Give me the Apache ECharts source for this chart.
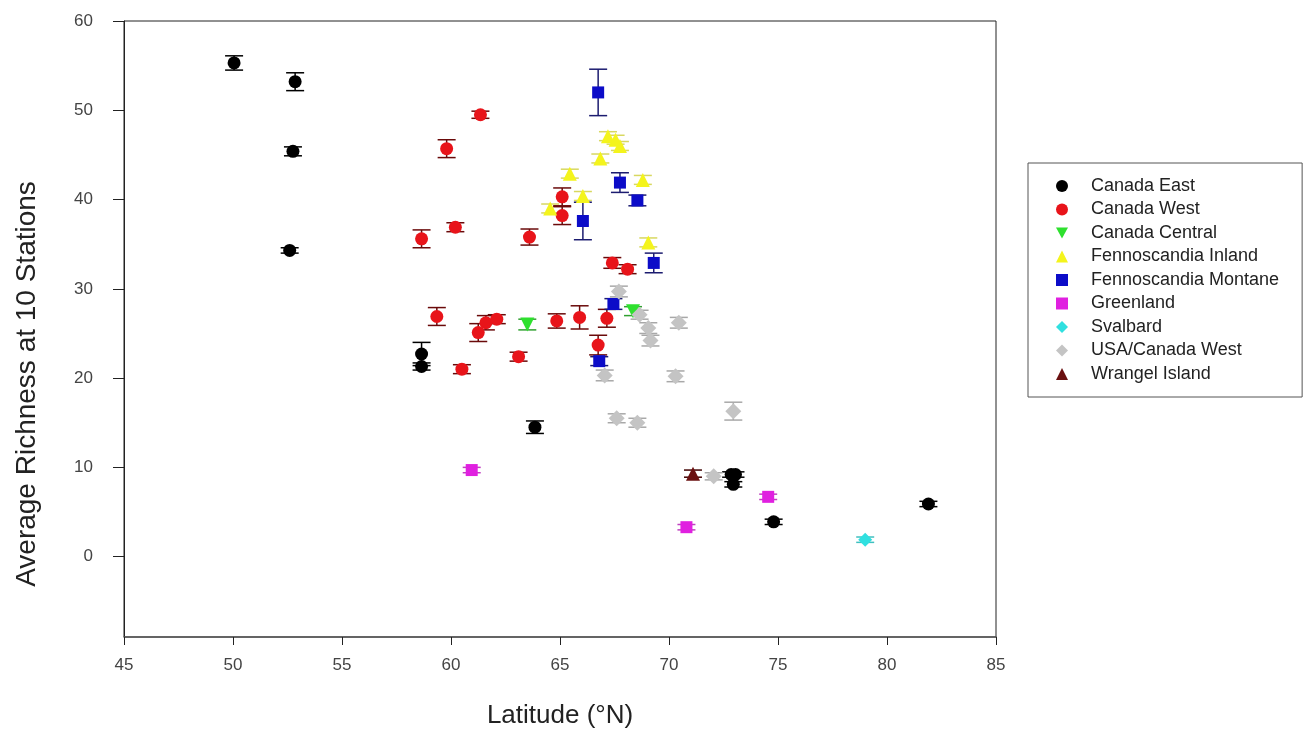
<!DOCTYPE html>
<html>
<head>
<meta charset="utf-8">
<script src="https://cdn.jsdelivr.net/npm/echarts@6/dist/echarts.min.js"></script>
<style>html,body{margin:0;padding:0;background:#fff}#c{width:1306px;height:734px}</style>
</head>
<body>
<div id="c"></div>
<script>
// [latitude, richness, error]
var canadaEast = [[50.05,55.3,0.8],[52.85,53.2,1.0],[52.75,45.4,0.5],[52.6,34.3,0.3],[58.65,22.7,1.3],[58.65,21.3,0.4],[63.85,14.5,0.7],[72.85,9.2,0.3],[73.05,9.2,0.3],[72.95,8.1,0.3],[74.8,3.9,0.3],[81.9,5.9,0.3]];
var canadaWest = [[61.35,49.5,0.4],[59.8,45.7,1.0],[60.2,36.9,0.5],[58.65,35.6,1.0],[63.6,35.8,0.9],[65.1,40.3,1.0],[65.1,38.2,1.0],[67.4,32.9,0.6],[68.1,32.2,0.5],[59.35,26.9,1.0],[61.25,25.1,1.0],[61.6,26.2,0.8],[62.1,26.6,0.5],[60.5,21.0,0.5],[63.1,22.4,0.5],[64.85,26.4,0.8],[65.9,26.8,1.3],[67.15,26.7,1.0],[66.75,23.7,1.1]];
var canadaCentral = [[63.5,26.0,0.6],[68.35,27.5,0.5]];
var fennoInland = [[64.55,39.0,0.5],[66.05,40.4,0.5],[65.45,42.9,0.5],[66.85,44.6,0.5],[67.2,47.1,0.5],[67.55,46.7,0.5],[67.75,46.0,0.5],[68.8,42.2,0.5],[69.05,35.2,0.5]];
var fennoMontane = [[66.75,52.0,2.6],[67.75,41.9,1.1],[68.55,39.9,0.6],[66.05,37.6,2.1],[69.3,32.9,1.1],[67.45,28.3,0.6],[66.8,21.9,0.5]];
var greenland = [[60.95,9.7,0.3],[70.8,3.3,0.3],[74.55,6.7,0.3]];
var svalbard = [[79.0,1.9,0.3]];
var usaCanadaWest = [[67.7,29.7,0.6],[68.65,27.1,0.5],[69.05,25.6,0.6],[69.15,24.2,0.6],[70.45,26.2,0.6],[70.3,20.2,0.6],[67.05,20.3,0.6],[67.6,15.5,0.5],[68.55,15.0,0.5],[72.95,16.3,1.0],[72.05,9.0,0.4]];
var wrangel = [[71.1,9.3,0.4]];

var yTicks = [0,10,20,30,40,50,60];
var xTitle = 'Latitude (°N)';
var yTitle = 'Average Richness at 10 Stations';

var groups = [
  {name:'Canada East', data:canadaEast, color:'#000000', bar:'#000000', symbol:'circle', size:13},
  {name:'Canada West', data:canadaWest, color:'#e8141a', bar:'#6a0a0a', symbol:'circle', size:13},
  {name:'Canada Central', data:canadaCentral, color:'#2ee02e', bar:'#30a030', symbol:'path://M0,0 L10,0 L5,9 Z', size:14},
  {name:'Fennoscandia Inland', data:fennoInland, color:'#f4f41c', bar:'#d8d860', symbol:'triangle', size:14},
  {name:'Fennoscandia Montane', data:fennoMontane, color:'#0c0cc8', bar:'#1c1c70', symbol:'rect', size:12},
  {name:'Greenland', data:greenland, color:'#e020e0', bar:'#c040c0', symbol:'rect', size:12},
  {name:'Svalbard', data:svalbard, color:'#30e0e0', bar:'#40c0c0', symbol:'diamond', size:14},
  {name:'USA/Canada West', data:usaCanadaWest, color:'#c4c4c4', bar:'#a8a8a8', symbol:'diamond', size:16},
  {name:'Wrangel Island', data:wrangel, color:'#6a1010', bar:'#400000', symbol:'triangle', size:14}
];

var series = [];
groups.forEach(function(g){
  series.push({
    name: g.name + ' err',
    type: 'custom',
    z: 1,
    silent: true,
    data: g.data.map(function(d){ return [d[0], d[1]-d[2], d[1]+d[2]]; }),
    encode: {x:0, y:[1,2]},
    renderItem: function(params, api){
      var lo = api.coord([api.value(0), api.value(1)]);
      var hi = api.coord([api.value(0), api.value(2)]);
      var hw = 9;
      var st = {stroke: g.bar, lineWidth: 1.5};
      return {type:'group', children:[
        {type:'line', shape:{x1:lo[0], y1:lo[1], x2:hi[0], y2:hi[1]}, style:st},
        {type:'line', shape:{x1:lo[0]-hw, y1:lo[1], x2:lo[0]+hw, y2:lo[1]}, style:st},
        {type:'line', shape:{x1:hi[0]-hw, y1:hi[1], x2:hi[0]+hw, y2:hi[1]}, style:st}
      ]};
    }
  });
});
groups.forEach(function(g){
  series.push({
    name: g.name,
    type: 'scatter',
    z: 2,
    symbol: g.symbol,
    symbolSize: g.size,
    itemStyle: {color: g.color, opacity: 1},
    data: g.data.map(function(d){ return [d[0], d[1]]; })
  });
});

var chart = echarts.init(document.getElementById('c'));
chart.setOption({
  animation: false,
  backgroundColor: '#ffffff',
  textStyle: {fontFamily: 'Liberation Sans, Arial, sans-serif'},
  grid: {left:124, right:310, top:21, bottom:97, show:true, borderColor:'#222', borderWidth:1, backgroundColor:'#ffffff'},
  legend: {
    orient: 'vertical',
    left: 1028, top: 163,
    padding: [14, 23, 14, 28],
    borderColor: '#555', borderWidth: 1,
    itemWidth: 12, itemHeight: 12, itemGap: 5.5,
    textStyle: {fontSize: 18, color:'#222', lineHeight: 12, padding:[0,0,0,18], fontFamily:'Liberation Sans, Arial, sans-serif'},
    data: groups.map(function(g){ return g.name; })
  },
  graphic: [{
    type: 'text', x: 27, y: 384, rotation: Math.PI/2,
    style: {text: yTitle, fontSize: 28, fill: '#222', align: 'center', verticalAlign: 'middle', fontFamily:'Liberation Sans, Arial, sans-serif'}
  }],
  xAxis: {
    type: 'value', min: 45, max: 85, interval: 5,
    name: xTitle, nameLocation: 'middle', nameGap: 66,
    nameTextStyle: {fontSize: 26, color:'#222'},
    axisLine: {onZero: false, lineStyle: {color:'#555', width:1.5}},
    axisTick: {show:true, length:8, lineStyle:{color:'#222'}},
    axisLabel: {fontSize: 17, color:'#444', margin: 20},
    splitLine: {show:false}
  },
  yAxis: {
    type: 'value', min: -9, max: 60,
    axisLine: {show:true, onZero:false, lineStyle: {color:'#222', width:1}},
    axisTick: {show:true, length:11, customValues: yTicks, lineStyle:{color:'#222'}},
    axisLabel: {fontSize: 17, color:'#444', margin: 31, customValues: yTicks},
    splitLine: {show:false}
  },
  series: series
});
</script>
</body>
</html>
